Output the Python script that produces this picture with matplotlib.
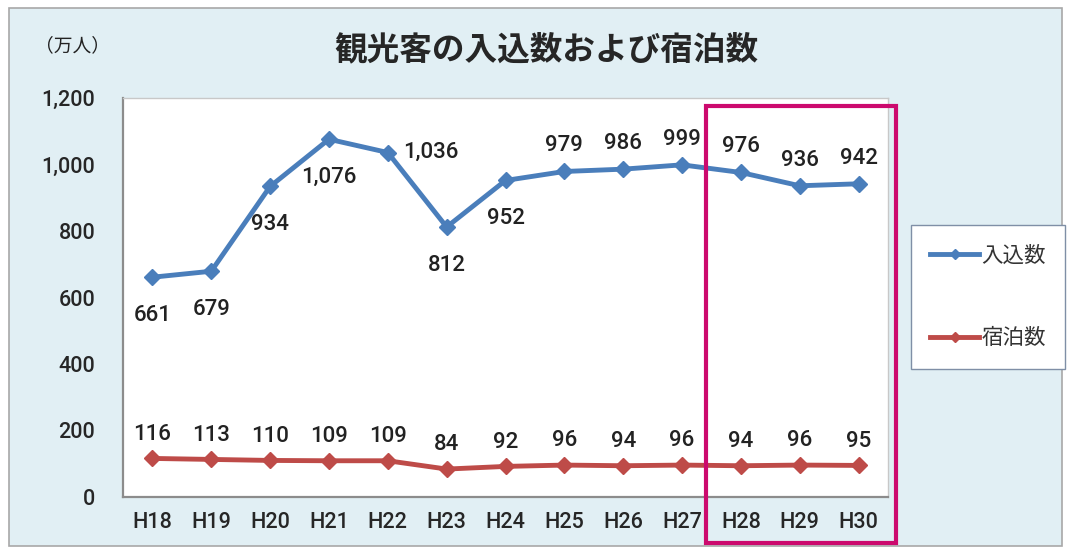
import matplotlib.pyplot as plt
from matplotlib.patches import Rectangle

plt.rcParams['font.family'] = ['Roboto', 'Noto Sans CJK JP', 'DejaVu Sans']

# 年度別の観光客入込数と宿泊数（万人）
years = ['H18', 'H19', 'H20', 'H21', 'H22', 'H23', 'H24', 'H25', 'H26', 'H27', 'H28', 'H29', 'H30']
visitors = [661, 679, 934, 1076, 1036, 812, 952, 979, 986, 999, 976, 936, 942]
overnight = [116, 113, 110, 109, 109, 84, 92, 96, 94, 96, 94, 96, 95]
# ラベル位置: 'b' 下, 'a' 上, 'r' 右
visitor_pos = ['b', 'b', 'b', 'b', 'r', 'b', 'b', 'a', 'a', 'a', 'a', 'a', 'a']

blue = '#4A7EBB'
red = '#BE4B48'
bg = '#E1EFF4'
jp = ['Noto Sans CJK JP', 'DejaVu Sans']

W, H = 1070, 548
fig = plt.figure(figsize=(W / 100, H / 100), dpi=100)
fig.patch.set_facecolor('white')

def fx(px):
    return px / W

def fy(py):
    return 1 - py / H

# グラフ全体の背景
fig.patches.append(Rectangle((fx(9), fy(546)), fx(1062 - 9), (546 - 8) / H,
                             transform=fig.transFigure, facecolor=bg,
                             edgecolor='#A8A8A8', linewidth=1.2, zorder=-10))

ax = fig.add_axes([fx(123), fy(497), fx(888 - 123), (497 - 98) / H])
ax.set_zorder(1)
ax.set_facecolor('white')
x = list(range(len(years)))

ax.plot(x, visitors, color=blue, lw=3.5, marker='D', ms=8, label='入込数', zorder=3)
ax.plot(x, overnight, color=red, lw=3.5, marker='D', ms=8, label='宿泊数', zorder=3)

ax.set_xlim(-0.5, len(years) - 0.5)
ax.set_ylim(0, 1200)
ax.set_xticks(x)
ax.set_xticklabels(years)
ax.set_yticks(range(0, 1201, 200))
ax.set_yticklabels([f'{v:,}' for v in range(0, 1201, 200)])
ax.tick_params(length=0, labelsize=15.5, colors='#262626')
for t in ax.get_xticklabels() + ax.get_yticklabels():
    t.set_fontweight('medium')
ax.tick_params(axis='y', pad=20)
ax.tick_params(axis='x', pad=11)
for s in ax.spines.values():
    s.set_color('#C8C8C8')
    s.set_linewidth(1)
ax.spines['left'].set_color('#8C8C8C')
ax.spines['bottom'].set_color('#8C8C8C')
ax.spines['left'].set_linewidth(1.6)
ax.spines['bottom'].set_linewidth(1.6)

lab = dict(fontsize=16, color='#222222', fontweight='medium', textcoords='offset points')
for i, v in enumerate(visitors):
    p = visitor_pos[i]
    if p == 'b':
        ax.annotate(f'{v:,}', (i, v), xytext=(0, -20), ha='center', va='top', **lab)
    elif p == 'a':
        ax.annotate(f'{v:,}', (i, v), xytext=(0, 11), ha='center', va='bottom', **lab)
    else:
        ax.annotate(f'{v:,}', (i, v), xytext=(11, 0), ha='left', va='center', **lab)
for i, v in enumerate(overnight):
    ax.annotate(f'{v:,}', (i, v), xytext=(0, 10), ha='center', va='bottom', **lab)

fig.text(fx(546), fy(50), '観光客の入込数および宿泊数', ha='center', va='center',
         fontsize=23.5, fontweight='bold', color='#262626', family=jp)
fig.text(fx(73), fy(46), '（万人）', ha='center', va='center', fontsize=13.5,
         color='#222222', family=jp)

leg = fig.legend(loc='center', bbox_to_anchor=(fx(988), fy(297)), frameon=True,
                 handlelength=2.3, handletextpad=0.1, labelspacing=2.8,
                 borderpad=0.9, borderaxespad=0, fancybox=False, markerscale=0.7,
                 framealpha=1, prop={'family': jp, 'size': 15.5})
leg.get_frame().set_edgecolor('#7F8FA6')
leg.get_frame().set_facecolor('white')
leg.get_frame().set_linewidth(1)
for t in leg.get_texts():
    t.set_color('#333333')

# H28〜H30 を囲む枠
fig.patches.append(Rectangle((fx(706), fy(543)), fx(896 - 706), (543 - 106) / H,
                             transform=fig.transFigure, fill=False,
                             edgecolor='#CC0A6E', linewidth=3, zorder=10))

fig.savefig('out.png', dpi=100)
